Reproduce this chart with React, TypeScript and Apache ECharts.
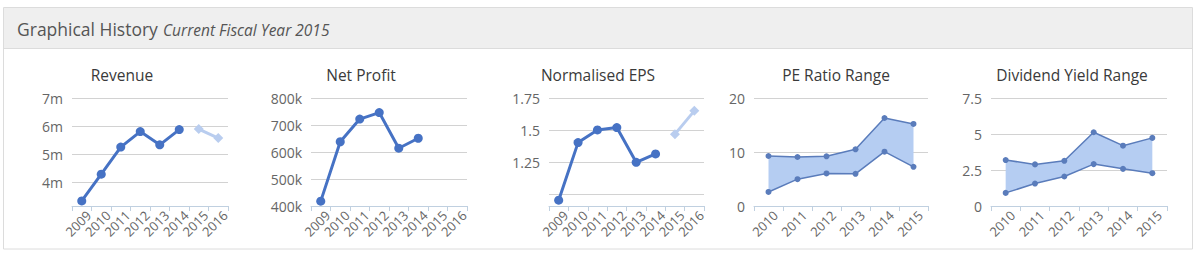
import React, { useEffect, useRef } from "react";
import * as echarts from "echarts";

const FONT = '"Open Sans", "Noto Sans", sans-serif';

// ---- data ----
const years = ["2009", "2010", "2011", "2012", "2013", "2014", "2015", "2016"];
const rangeYears = ["2010", "2011", "2012", "2013", "2014", "2015"];

const revenueActual = [3350000, 4300000, 5260000, 5810000, 5340000, 5880000, null, null];
const revenueForecast = [null, null, null, null, null, null, 5900000, 5580000];
const revenueTicks = [4000000, 5000000, 6000000, 7000000];

const netProfit = [418000, 638000, 722000, 746000, 614000, 651000, null, null];

const epsActual = [0.955, 1.403, 1.502, 1.52, 1.25, 1.315, null, null];
const epsForecast = [null, null, null, null, null, null, 1.469, 1.65];
const epsTicks = [1, 1.25, 1.5, 1.75];
const epsLabels = [1.25, 1.5, 1.75];

const peHigh = [9.26, 9.07, 9.2, 10.5, 16.3, 15.2];
const peLow = [2.6, 4.97, 6.03, 5.96, 10.06, 7.26];

const dyHigh = [3.19, 2.89, 3.14, 5.12, 4.19, 4.73];
const dyLow = [0.91, 1.56, 2.05, 2.91, 2.58, 2.28];

const titles = ["Revenue", "Net Profit", "Normalised EPS", "PE Ratio Range", "Dividend Yield Range"];

// ---- style ----
const MAIN = "#4672C4";
const FORECAST = "#B9CDEF";
const RANGE_LINE = "#5A7CBB";
const RANGE_FILL = "#B5CDF2";
const AXIS = "#C0D0E0";
const GRIDLINE = "#D2D2D2";
const LABEL = "#666666";

const layout = [
  { left: 72, width: 156, cx: 122 },
  { left: 311, width: 156, cx: 361 },
  { left: 549, width: 155, cx: 598 },
  { left: 754, width: 174, cx: 836 },
  { left: 991, width: 176, cx: 1072 },
];
const GRID_TOP = 98;
const GRID_H = 108;

function xAxis(i: number, data: string[]) {
  return {
    type: "category",
    gridIndex: i,
    data,
    boundaryGap: true,
    axisLine: { lineStyle: { color: AXIS, width: 1 } },
    axisTick: { show: true, interval: 0, length: 5, lineStyle: { color: AXIS } },
    axisLabel: {
      interval: 0,
      rotate: 45,
      color: LABEL,
      fontSize: 13,
      fontFamily: FONT,
      margin: 0,
      verticalAlign: "top",
      lineHeight: 20,
    },
    splitLine: { show: false },
  };
}

function yAxis(i: number, extra: any) {
  return {
    type: "value",
    gridIndex: i,
    axisLine: { show: false },
    splitLine: { show: true, lineStyle: { color: GRIDLINE, width: 1 } },
    ...extra,
    axisTick: { show: false, ...(extra.axisTick || {}) },
    axisLabel: { color: LABEL, fontSize: 14, fontFamily: FONT, margin: 9, ...(extra.axisLabel || {}) },
  };
}

function mainLine(i: number, data: any[]) {
  return {
    type: "line",
    xAxisIndex: i,
    yAxisIndex: i,
    data,
    symbol: "circle",
    symbolSize: 9,
    lineStyle: { color: MAIN, width: 3 },
    itemStyle: { color: MAIN },
    silent: true,
    z: 3,
  };
}

function forecastLine(i: number, data: any[]) {
  return {
    type: "line",
    xAxisIndex: i,
    yAxisIndex: i,
    data,
    symbol: "diamond",
    symbolSize: 10,
    lineStyle: { color: FORECAST, width: 3 },
    itemStyle: { color: FORECAST },
    silent: true,
    z: 3,
  };
}

function rangeSeries(i: number, low: number[], high: number[], stack: string) {
  return [
    {
      type: "line",
      xAxisIndex: i,
      yAxisIndex: i,
      stack,
      data: low,
      symbol: "circle",
      symbolSize: 6,
      lineStyle: { color: RANGE_LINE, width: 1.5 },
      itemStyle: { color: RANGE_LINE },
      silent: true,
      z: 4,
    },
    {
      type: "line",
      xAxisIndex: i,
      yAxisIndex: i,
      stack,
      data: high.map((h, k) => +(h - low[k]).toFixed(4)),
      symbol: "circle",
      symbolSize: 6,
      lineStyle: { color: RANGE_LINE, width: 1.5 },
      itemStyle: { color: RANGE_LINE },
      areaStyle: { color: RANGE_FILL, opacity: 1 },
      silent: true,
      z: 3,
    },
  ];
}

const option: any = {
  animation: false,
  backgroundColor: "#ffffff",
  textStyle: { fontFamily: FONT },
  graphic: [
    {
      type: "rect",
      shape: { x: 3.5, y: 7.5, width: 1189, height: 241.5 },
      style: { fill: "none", stroke: "#DCDCDC", lineWidth: 1 },
      silent: true,
    },
    {
      type: "rect",
      shape: { x: 4, y: 8, width: 1188, height: 40 },
      style: { fill: "#EFEFEF" },
      silent: true,
    },
    {
      type: "line",
      shape: { x1: 4, y1: 48.5, x2: 1192, y2: 48.5 },
      style: { stroke: "#DCDCDC", lineWidth: 1 },
      silent: true,
    },
    {
      type: "text",
      x: 17,
      y: 29,
      style: {
        text: "Graphical History",
        fill: "#555555",
        font: `17.5px ${FONT}`,
        textAlign: "left",
        textVerticalAlign: "middle",
      },
      silent: true,
    },
    {
      type: "text",
      x: 163,
      y: 30,
      style: {
        text: "Current Fiscal Year 2015",
        fill: "#555555",
        font: `italic 15.5px ${FONT}`,
        textAlign: "left",
        textVerticalAlign: "middle",
      },
      silent: true,
    },
    ...titles.map((t, i) => ({
      type: "text",
      x: layout[i].cx,
      y: 75,
      style: {
        text: t,
        fill: "#3A3A3A",
        font: `15.5px ${FONT}`,
        textAlign: "center",
        textVerticalAlign: "middle",
      },
      silent: true,
    })),
  ],
  grid: layout.map((l) => ({ left: l.left, width: l.width, top: GRID_TOP, height: GRID_H })),
  xAxis: [
    xAxis(0, years),
    xAxis(1, years),
    xAxis(2, years),
    xAxis(3, rangeYears),
    xAxis(4, rangeYears),
  ],
  yAxis: [
    yAxis(0, {
      min: 3170000,
      max: 7000000,
      axisTick: { customValues: revenueTicks },
      axisLabel: { customValues: revenueTicks, formatter: (v: number) => `${v / 1000000}m` },
    }),
    yAxis(1, {
      min: 400000,
      max: 800000,
      interval: 100000,
      axisLabel: { formatter: (v: number) => `${v / 1000}k` },
    }),
    yAxis(2, {
      min: 0.91,
      max: 1.75,
      axisTick: { customValues: epsTicks },
      axisLabel: { customValues: epsLabels, formatter: (v: number) => `${v}` },
    }),
    yAxis(3, { min: 0, max: 20, interval: 10 }),
    yAxis(4, { min: 0, max: 7.5, interval: 2.5 }),
  ],
  series: [
    mainLine(0, revenueActual),
    forecastLine(0, revenueForecast),
    mainLine(1, netProfit),
    mainLine(2, epsActual),
    forecastLine(2, epsForecast),
    ...rangeSeries(3, peLow, peHigh, "pe"),
    ...rangeSeries(4, dyLow, dyHigh, "dy"),
  ],
};

export default function App() {
  const ref = useRef<HTMLDivElement>(null);
  useEffect(() => {
    if (!ref.current) return;
    const chart = echarts.init(ref.current, null, { renderer: "svg" });
    chart.setOption(option);
    return () => chart.dispose();
  }, []);
  return (
    <div
      ref={ref}
      style={{ position: "absolute", left: 0, top: 0, width: 1194, height: 263, background: "#fff" }}
    />
  );
}
